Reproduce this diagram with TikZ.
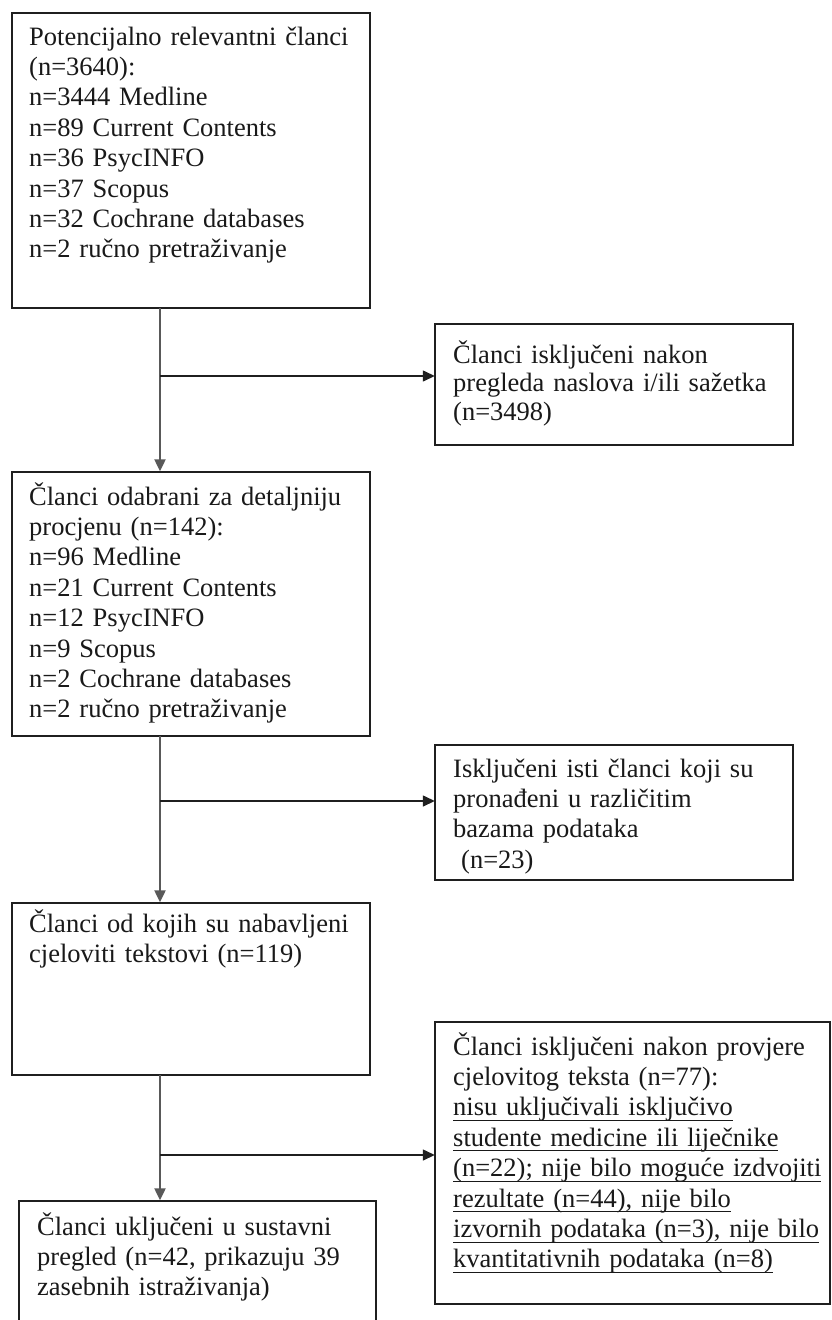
\documentclass[tikz,border=0pt]{standalone}
\usepackage{fontspec}
\setmainfont{Liberation Serif}
\usetikzlibrary{arrows.meta}
\newcommand{\uln}[1]{\leavevmode\setbox0\hbox{#1}\rlap{\rule[-5pt]{\wd0}{0.9pt}}\box0}
\begin{document}
\begin{tikzpicture}[x=1pt,y=-1pt,
  boxst/.style={draw=black!88,line width=1.6pt},
  txt/.style={anchor=base west,inner sep=0pt,text width=420pt,align=left,text=black!90,
    font=\fontsize{26.5}{30.4}\selectfont},
  txtb/.style={txt,font=\fontsize{26.5}{28.5}\selectfont},
  trunk/.style={draw=black!65,line width=2.2pt,-{Triangle[length=12pt,width=11pt]},shorten >=0.5pt},
  branch/.style={draw=black!88,line width=1.4pt,-{Triangle[length=12pt,width=11pt]}}]
\useasboundingbox (0,0) rectangle (831,1320);
\fill[white] (0,0) rectangle (831,1320);
% boxes
\draw[boxst] (12,13) rectangle (370,308);
\node[inner sep=0pt,minimum width=358pt,minimum height=295pt] (b1) at (191,160.5) {};
\draw[boxst] (435,324) rectangle (793,445);
\node[inner sep=0pt,minimum width=358pt,minimum height=121pt] (b2) at (614,384.5) {};
\draw[boxst] (12,472) rectangle (370,736);
\node[inner sep=0pt,minimum width=358pt,minimum height=264pt] (b3) at (191,604) {};
\draw[boxst] (435,745) rectangle (793,880);
\node[inner sep=0pt,minimum width=358pt,minimum height=135pt] (b4) at (614,812.5) {};
\draw[boxst] (12,903) rectangle (370,1075);
\node[inner sep=0pt,minimum width=358pt,minimum height=172pt] (b5) at (191,989) {};
\draw[boxst] (435,1022) rectangle (830,1304);
\node[inner sep=0pt,minimum width=395pt,minimum height=282pt] (b6) at (632.5,1163) {};
\draw[boxst] (19,1330) -- (19,1201) -- (376,1201) -- (376,1330);
\node[inner sep=0pt,minimum width=357pt,minimum height=129pt] (b7) at (197.5,1265.5) {};
% texts
\node[txt] (t1) at (29,45) {Potencijalno relevantni članci\\(n=3640):\\n=3444 Medline\\n=89 Current Contents\\n=36 PsycINFO\\n=37 Scopus\\n=32 Cochrane databases\\n=2 ručno pretraživanje};
\node[txtb] (t2) at (453,363) {Članci isključeni nakon\\pregleda naslova i/ili sažetka\\(n=3498)};
\node[txt] (t3) at (29,505) {Članci odabrani za detaljniju\\procjenu (n=142):\\n=96 Medline\\n=21 Current Contents\\n=12 PsycINFO\\n=9 Scopus\\n=2 Cochrane databases\\n=2 ručno pretraživanje};
\node[txt] (t4) at (453,777) {Isključeni isti članci koji su\\pronađeni u različitim\\bazama podataka\\\hspace*{8pt}(n=23)};
\node[txt] (t5) at (29,932) {Članci od kojih su nabavljeni\\cjeloviti tekstovi (n=119)};
\node[txt] (t6) at (453,1055) {Članci isključeni nakon provjere\\cjelovitog teksta (n=77):\\\uln{nisu uključivali isključivo}\\\uln{studente medicine ili liječnike}\\\uln{(n=22); nije bilo moguće izdvojiti}\\\uln{rezultate (n=44), nije bilo}\\\uln{izvornih podataka (n=3), nije bilo}\\\uln{kvantitativnih podataka (n=8)}};
\node[txt] (t7) at (37,1235) {Članci uključeni u sustavni\\pregled (n=42, prikazuju 39\\zasebnih istraživanja)};
% connectors
\coordinate (j1) at (160,376);
\coordinate (j2) at (160,801);
\coordinate (j3) at (160,1155);
\draw[trunk] (b1.south -| j1) -- (b3.north -| j1);
\draw[branch] (j1) -- (j1 -| b2.west);
\draw[trunk] (b3.south -| j2) -- (b5.north -| j2);
\draw[branch] (j2) -- (j2 -| b4.west);
\draw[trunk] (b5.south -| j3) -- (b7.north -| j3);
\draw[branch] (j3) -- (j3 -| b6.west);
\end{tikzpicture}
\end{document}
